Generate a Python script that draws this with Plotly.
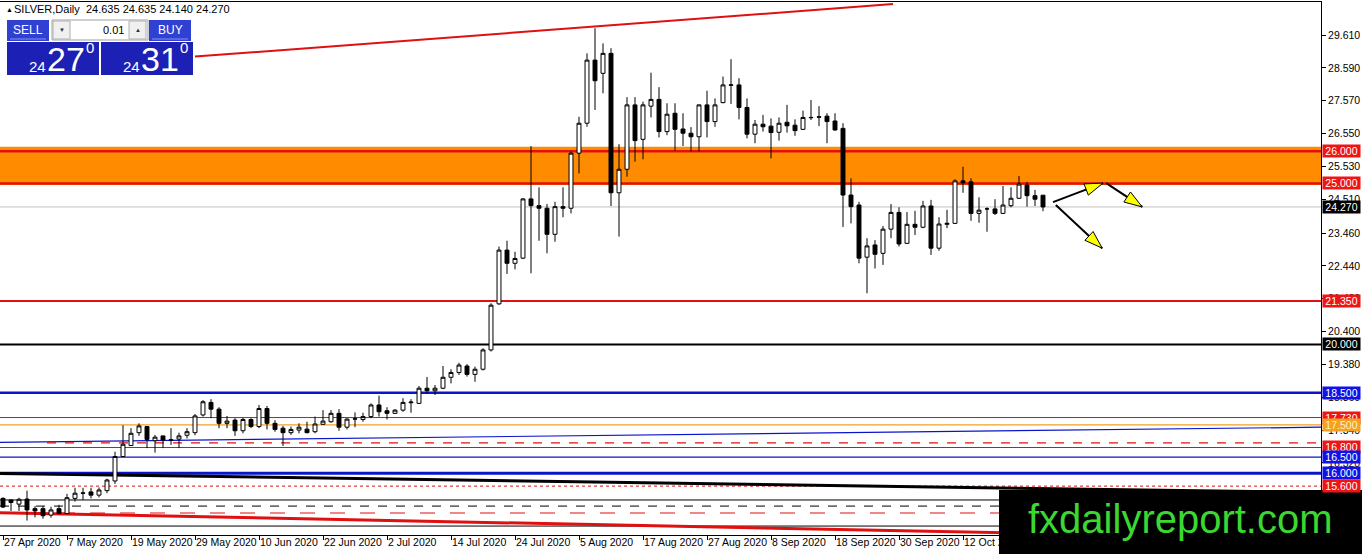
import math
import plotly.graph_objects as go

# daily OHLC, 27 Apr 2020 .. 26 Oct 2020 (one value per trading day)
opens = [15.22, 15.17, 15.04, 15.20, 14.90, 14.90, 14.70, 14.90, 14.75, 15.22,
         15.39, 15.42, 15.32, 15.46, 15.76, 16.52, 16.86, 17.26, 17.45, 17.01,
         17.16, 17.04, 17.06, 17.18, 17.26, 17.81, 18.20, 17.99, 17.55, 17.65,
         17.32, 17.67, 17.45, 18.01, 17.55, 17.40, 17.26, 17.34, 17.37, 17.29,
         17.52, 17.60, 17.86, 17.43, 17.68, 17.67, 17.76, 18.12, 17.94, 17.86,
         17.96, 18.19, 18.17, 18.64, 18.56, 18.64, 18.98, 19.13, 19.33, 19.07,
         19.23, 19.83, 21.26, 22.93, 22.52, 22.68, 24.52, 24.31, 24.23, 23.42,
         24.28, 24.23, 25.94, 26.87, 28.83, 28.42, 29.04, 24.71, 25.44, 27.44,
         26.37, 27.40, 27.61, 26.61, 27.18, 26.69, 26.56, 26.45, 27.44, 26.92,
         27.51, 28.05, 28.06, 27.36, 26.53, 26.84, 26.78, 26.59, 26.90, 26.81,
         26.68, 27.04, 27.07, 27.09, 26.94, 26.71, 24.64, 24.33, 22.71, 23.09,
         22.83, 23.58, 24.10, 23.14, 23.73, 23.64, 24.30, 22.99, 23.73, 23.76,
         25.08, 25.05, 24.07, 24.21, 24.21, 24.07, 24.31, 24.54, 24.95, 24.62,
         24.635]
highs = [15.25, 15.19, 15.24, 15.46, 14.98, 14.98, 14.96, 15.02, 15.36, 15.55,
         15.55, 15.55, 15.56, 15.83, 16.67, 17.49, 17.40, 17.55, 17.47, 17.19,
         17.16, 17.40, 17.26, 17.40, 17.84, 18.27, 18.30, 18.05, 17.78, 17.71,
         17.72, 17.71, 18.12, 18.09, 17.65, 17.47, 17.45, 17.55, 17.60, 17.76,
         17.96, 17.96, 17.99, 17.71, 17.89, 17.88, 18.17, 18.41, 18.05, 17.99,
         18.33, 18.30, 18.71, 18.99, 18.74, 19.33, 19.23, 19.43, 19.39, 19.31,
         19.88, 21.28, 23.04, 23.22, 22.88, 24.54, 26.16, 24.88, 24.36, 24.43,
         24.88, 25.99, 27.07, 29.04, 29.82, 29.35, 29.20, 26.22, 27.68, 27.68,
         27.54, 28.44, 27.99, 27.49, 27.49, 27.18, 26.75, 27.45, 27.88, 27.64,
         28.32, 28.86, 28.27, 27.64, 26.97, 27.13, 27.02, 27.05, 27.44, 26.99,
         27.26, 27.59, 27.40, 27.18, 27.18, 26.87, 25.16, 24.43, 23.30, 23.24,
         23.68, 24.36, 24.26, 24.11, 24.15, 24.46, 24.49, 23.95, 24.18, 25.13,
         25.52, 25.16, 24.57, 24.26, 24.51, 24.92, 24.88, 25.23, 25.05, 24.80,
         24.635]
lows = [14.92, 14.83, 14.83, 14.53, 14.63, 14.59, 14.62, 14.74, 14.73, 15.12,
        15.17, 15.22, 15.25, 15.38, 15.67, 16.50, 16.85, 17.16, 16.78, 16.64,
        16.78, 16.88, 16.78, 17.08, 17.18, 17.76, 17.71, 17.40, 17.40, 17.16,
        17.24, 17.40, 17.40, 17.36, 17.29, 16.85, 17.19, 17.24, 17.24, 17.24,
        17.50, 17.57, 17.32, 17.36, 17.43, 17.60, 17.71, 17.76, 17.67, 17.84,
        17.91, 17.88, 18.15, 18.48, 18.43, 18.61, 18.79, 19.05, 19.00, 18.84,
        19.19, 19.78, 21.23, 22.19, 22.33, 22.65, 22.21, 23.22, 22.83, 23.19,
        23.95, 24.07, 25.31, 26.76, 27.28, 27.80, 24.30, 23.35, 25.21, 25.68,
        25.75, 27.05, 26.43, 26.50, 26.02, 26.16, 25.99, 25.99, 26.43, 26.76,
        27.49, 27.47, 26.99, 26.40, 26.25, 26.61, 25.78, 26.33, 26.58, 26.48,
        26.66, 26.97, 26.78, 26.25, 26.64, 23.65, 23.76, 22.52, 21.59, 22.36,
        22.47, 23.30, 23.04, 23.12, 23.40, 23.61, 22.78, 22.91, 23.61, 23.74,
        24.71, 23.84, 23.78, 23.50, 24.02, 24.05, 24.26, 24.52, 24.28, 24.30,
        24.14]
closes = [14.95, 15.09, 15.19, 14.86, 14.83, 14.68, 14.86, 14.75, 15.24, 15.38,
          15.38, 15.32, 15.48, 15.79, 16.52, 16.90, 17.24, 17.47, 17.05, 17.12,
          17.03, 17.03, 17.16, 17.29, 17.78, 18.22, 17.99, 17.55, 17.62, 17.32,
          17.67, 17.45, 18.01, 17.55, 17.36, 17.26, 17.36, 17.43, 17.26, 17.53,
          17.62, 17.86, 17.43, 17.68, 17.69, 17.76, 18.12, 17.91, 17.86, 17.96,
          18.20, 18.21, 18.64, 18.56, 18.64, 18.98, 19.13, 19.36, 19.07, 19.23,
          19.83, 21.22, 22.93, 22.52, 22.67, 24.52, 24.31, 24.23, 23.42, 24.28,
          24.23, 25.94, 26.87, 28.83, 28.19, 29.04, 24.71, 25.44, 27.44, 26.33,
          27.44, 27.61, 26.61, 27.15, 26.68, 26.56, 26.45, 27.44, 26.92, 27.44,
          28.06, 28.06, 27.36, 26.53, 26.84, 26.76, 26.58, 26.87, 26.79, 26.64,
          27.05, 27.05, 27.06, 26.92, 26.66, 24.64, 24.28, 22.68, 23.06, 22.80,
          23.58, 24.10, 23.12, 23.73, 23.64, 24.30, 22.99, 23.74, 23.76, 25.08,
          25.02, 24.07, 24.17, 24.21, 24.07, 24.33, 24.54, 24.98, 24.62, 24.51,
          24.27]

date_ticks = [0, 8, 16, 24, 32, 40, 48, 56, 64, 72, 80, 88, 96, 104, 112, 120]
date_labels = ["27 Apr 2020", "7 May 2020", "19 May 2020", "29 May 2020",
               "10 Jun 2020", "22 Jun 2020", "2 Jul 2020", "14 Jul 2020",
               "24 Jul 2020", "5 Aug 2020", "17 Aug 2020", "27 Aug 2020",
               "8 Sep 2020", "18 Sep 2020", "30 Sep 2020", "12 Oct 2020"]

price_ticks = [29.61, 28.59, 27.57, 26.55, 25.53, 24.51, 23.46, 22.44, 21.42,
               20.40, 19.38, 18.36, 17.34, 16.32, 15.30, 14.28]

# horizontal levels drawn on the chart, with their price boxes on the scale
level_prices = [26.0, 25.0, 24.27, 21.35, 20.0, 18.5, 17.73, 17.5, 16.8, 16.5, 16.0, 15.6]

# resistance zone
zone_low, zone_high = 24.95, 26.14

RED = "#e01010"
BLUE = "#0a14c8"
level_style = {
    26.0: (RED, 2.5, "solid", "#ee1515", "white"),
    25.0: (RED, 2.5, "solid", "#ee1515", "white"),
    24.27: ("#c0c0c0", 1, "solid", "black", "white"),
    21.35: (RED, 2, "solid", "#ee1515", "white"),
    20.0: ("black", 2, "solid", "black", "white"),
    18.5: (BLUE, 2.5, "solid", "#1212e8", "white"),
    17.73: (RED, 1, "solid", "#ee1515", "white"),
    17.5: ("#f0a020", 1.2, "solid", "#f5a020", "#fff2c8"),
    16.8: (RED, 1.2, "solid", "#ee1515", "white"),
    16.5: (BLUE, 1.2, "solid", "#1212e8", "white"),
    16.0: (BLUE, 3, "solid", "#1212e8", "white"),
    15.6: (RED, 1, "dot", "#ee1515", "white"),
}

X0, X1 = -0.375, 164.75
Y0, Y1 = 14.082, 30.635
W, H, T = 1321, 533, 2


def xp(px):
    return px / W


def yp(py):
    return 1 - (py - T) / H


def to_px(i, p):
    return (i - X0) / (X1 - X0) * W, T + (Y1 - p) / (Y1 - Y0) * H


def to_data(px, py):
    return X0 + px / W * (X1 - X0), Y1 - (py - T) / H * (Y1 - Y0)


fig = go.Figure()
fig.add_trace(go.Candlestick(
    x=list(range(len(opens))), open=opens, high=highs, low=lows, close=closes,
    increasing=dict(line=dict(color="black", width=1), fillcolor="white"),
    decreasing=dict(line=dict(color="black", width=1), fillcolor="black"),
    whiskerwidth=0, hoverinfo="skip", showlegend=False,
))

shapes = []
# orange zone
shapes.append(dict(type="rect", xref="paper", yref="y", x0=0, x1=1,
                   y0=zone_low, y1=zone_high, fillcolor="#ff8c00",
                   line=dict(width=0), layer="below"))

# other drawn lines (trend lines and helper levels)
extra = [
    # x0, y0, x1, y1, colour, width, dash
    (-0.375, 16.96, 164.75, 17.43, BLUE, 1.2, "solid"),
    (5.5, 16.94, 164.4, 16.94, RED, 1.2, "dash"),
    (-0.375, 15.17, 164.75, 15.17, "black", 1, "solid"),
    (-0.375, 14.98, 164.75, 14.98, "black", 1, "dash"),
    (-0.375, 14.765, 164.75, 14.765, RED, 1.2, "longdash"),
    (-0.375, 14.36, 164.75, 14.36, "black", 1, "solid"),
]
for x0, y0, x1, y1, c, w, d in extra:
    shapes.append(dict(type="line", xref="x", yref="y", x0=x0, y0=y0, x1=x1, y1=y1,
                       line=dict(color=c, width=w, dash=d), layer="below"))

for p in level_prices:
    c, w, d, _, _ = level_style[p]
    shapes.append(dict(type="line", xref="paper", yref="y", x0=0, x1=1, y0=p, y1=p,
                       line=dict(color=c, width=w, dash=d), layer="below"))

# thick descending trend lines
shapes.append(dict(type="line", xref="x", yref="y", x0=-0.375, y0=15.995, x1=164.75, y1=15.40,
                   line=dict(color="black", width=3), layer="below"))
shapes.append(dict(type="line", xref="x", yref="y", x0=-0.375, y0=14.775, x1=164.75, y1=13.955,
                   line=dict(color=RED, width=3), layer="below"))
# upper trend line
shapes.append(dict(type="line", xref="x", yref="y", x0=24, y0=28.94, x1=111.25, y1=30.57,
                   line=dict(color=RED, width=2), layer="below"))

# scenario arrows
arrows = [
    (131.25, 24.42, 137.5, 25.01),
    (137.9, 25.01, 142.4, 24.27),
    (131.6, 24.33, 137.4, 22.99),
]
for ax0, ay0, ax1, ay1 in arrows:
    shapes.append(dict(type="line", xref="x", yref="y", x0=ax0, y0=ay0, x1=ax1, y1=ay1,
                       line=dict(color="black", width=2)))
    px0, py0 = to_px(ax0, ay0)
    px1, py1 = to_px(ax1, ay1)
    ang = math.atan2(py1 - py0, px1 - px0)
    L, hw = 18, 6
    bx, by = px1 - L * math.cos(ang), py1 - L * math.sin(ang)
    nx, ny = -math.sin(ang) * hw, math.cos(ang) * hw
    pts = [to_data(px1, py1), to_data(bx + nx, by + ny), to_data(bx - nx, by - ny)]
    path = "M {} {} L {} {} L {} {} Z".format(*[v for pt in pts for v in pt])
    shapes.append(dict(type="path", xref="x", yref="y", path=path,
                       fillcolor="#ffff00", line=dict(color="black", width=1)))

# one-click trading panel (top left)
def prect(x0, y0, x1, y1, fill, line=None):
    shapes.append(dict(type="rect", xref="paper", yref="paper",
                       x0=xp(x0), x1=xp(x1), y0=yp(y1), y1=yp(y0),
                       fillcolor=fill, line=line or dict(width=0), layer="above"))

prect(7, 20, 49, 41, "#3040d2")
prect(149, 20, 191, 41, "#3040d2")
prect(52, 20, 148, 40, "white", dict(color="#a0a0a0", width=1))
prect(53, 21, 70, 39, "#f0f0f0", dict(color="#b0b0b0", width=1))
prect(129, 21, 146, 39, "#f0f0f0", dict(color="#b0b0b0", width=1))
prect(7, 42, 99, 75, "#1c20b4")
prect(101, 42, 193, 75, "#1c20b4")
shapes.append(dict(type="line", xref="paper", yref="paper", x0=xp(10), x1=xp(46),
                   y0=yp(39), y1=yp(39), line=dict(color="#8890ee", width=1), layer="above"))
shapes.append(dict(type="line", xref="paper", yref="paper", x0=xp(152), x1=xp(188),
                   y0=yp(39), y1=yp(39), line=dict(color="#8890ee", width=1), layer="above"))

# watermark box
prect(999, 490, 1362, 554, "black")

fig.update_layout(shapes=shapes)

ann = []
FONT = "Liberation Sans"


def ptext(x, y, text, size, color="black", anchor="left"):
    ann.append(dict(xref="paper", yref="paper", x=xp(x), y=yp(y), text=text,
                    showarrow=False, xanchor=anchor, yanchor="middle",
                    font=dict(family=FONT, size=size, color=color)))


ptext(4, 9, "▲", 7)
ptext(12, 9, "SILVER,Daily&nbsp;&nbsp;{:.3f} {:.3f} {:.3f} {:.3f}".format(
    opens[-1], highs[-1], lows[-1], closes[-1]), 11)
ptext(28, 30.5, "SELL", 12, "white", "center")
ptext(170, 30.5, "BUY", 12, "white", "center")
ptext(126, 30, "0.01", 11, "black", "right")
ptext(61.5, 30, "▼", 6, "#303030", "center")
ptext(137.5, 30, "▲", 6, "#303030", "center")
ptext(27, 66, "24", 15, "white")
ptext(45, 59, "27", 34, "white")
ptext(84, 48, "0", 15, "white")
ptext(121, 66, "24", 15, "white")
ptext(139, 59, "31", 34, "white")
ptext(178, 48, "0", 15, "white")
ptext(1180, 519, "fxdailyreport.com", 40, "#3cd832", "center")

for t, lab in zip(date_ticks, date_labels):
    ann.append(dict(xref="x", yref="paper", x=t, y=yp(542), text=lab, showarrow=False,
                    xanchor="left", yanchor="middle", xshift=-1,
                    font=dict(family=FONT, size=10.5, color="black")))

for p in level_prices:
    _, _, _, bg, fc = level_style[p]
    ann.append(dict(xref="paper", yref="y", x=1, y=p, text="{:.3f}".format(p),
                    showarrow=False, xanchor="left", yanchor="middle", xshift=1,
                    bgcolor=bg, width=37, height=12, borderpad=0,
                    font=dict(family=FONT, size=10.5, color=fc)))

fig.update_layout(
    annotations=ann,
    width=1362, height=554,
    margin=dict(l=0, r=41, t=T, b=554 - T - H),
    paper_bgcolor="white", plot_bgcolor="white",
    hovermode=False,
    xaxis=dict(range=[X0, X1], rangeslider=dict(visible=False), showgrid=False,
               zeroline=False, tickvals=date_ticks, showticklabels=False,
               ticks="outside", ticklen=4, tickcolor="black",
               showline=True, linecolor="black", linewidth=1, mirror=True),
    yaxis=dict(range=[Y0, Y1], side="right", showgrid=False, zeroline=False,
               tickvals=price_ticks, ticktext=["{:.3f}".format(v) for v in price_ticks],
               ticks="outside", ticklen=4, tickcolor="black",
               tickfont=dict(family=FONT, size=10.5, color="black"),
               showline=True, linecolor="black", linewidth=1, mirror=True),
)

fig.write_html("out.html", config={"displayModeBar": False},
               post_script="document.body.style.margin='0px';"
                           "document.body.style.overflow='hidden';")
